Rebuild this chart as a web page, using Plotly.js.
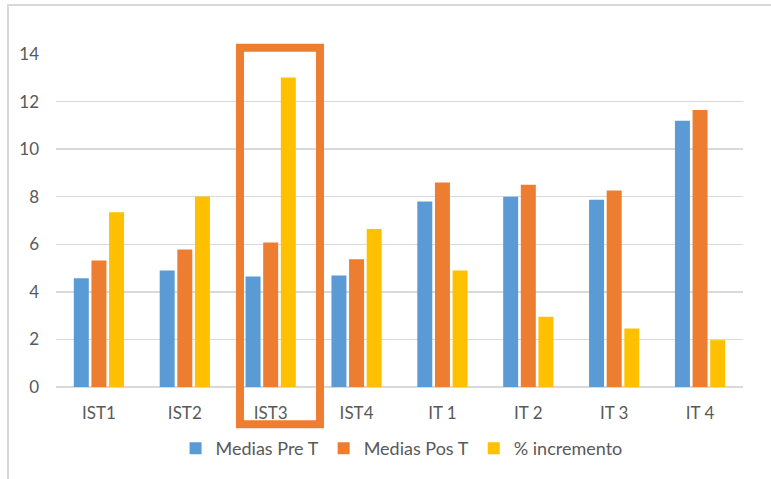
<!DOCTYPE html>
<html>
<head>
<meta charset="utf-8">
<script src="https://cdn.plot.ly/plotly-3.0.1.min.js"></script>
<style>
  html, body { margin: 0; padding: 0; background: #fff; }
  #wrap { position: relative; width: 771px; height: 479px; overflow: hidden; }
  #chart { position: absolute; left: 0; top: 0; width: 771px; height: 479px; }
  #frame {
    position: absolute; left: 7px; top: 4px; right: -4px; bottom: -4px;
    border-left: 2px solid #d9d9d9; border-top: 2px solid #d9d9d9;
    pointer-events: none;
  }
</style>
</head>
<body>
<div id="wrap">
  <div id="chart"></div>
  <div id="frame"></div>
</div>
<script>
// Categories (groups along the x axis)
const categories = ["IST1", "IST2", "IST3", "IST4", "IT 1", "IT 2", "IT 3", "IT 4"];

// Series values
const mediasPre  = [4.57, 4.90, 4.65, 4.69, 7.80, 8.00, 7.87, 11.19];
const mediasPos  = [5.32, 5.78, 6.07, 5.37, 8.60, 8.50, 8.26, 11.65];
const incremento = [7.35, 8.01, 13.01, 6.64, 4.90, 2.95, 2.46, 1.97];

// Series names
const seriesNames = ["Medias Pre T", "Medias Pos T", "% incremento"];

// Y axis ticks
const yTicks = [0, 2, 4, 6, 8, 10, 12, 14];

const colors = ["#5B9BD5", "#ED7D31", "#FFC000"];
const textFont = { family: "Lato, 'Open Sans', sans-serif", size: 17, color: "#595959" };
const legendFont = { family: "Lato, 'Open Sans', sans-serif", size: 18, color: "#595959" };

const traces = [mediasPre, mediasPos, incremento].map((vals, i) => ({
  type: "bar",
  name: seriesNames[i],
  x: categories,
  y: vals,
  marker: { color: colors[i], line: { width: 0 } },
  hoverinfo: "x+y+name"
}));

const layout = {
  width: 771,
  height: 479,
  margin: { l: 56, r: 28, t: 54, b: 89 },
  paper_bgcolor: "#ffffff",
  plot_bgcolor: "#ffffff",
  barmode: "group",
  bargap: 0.384,
  bargroupgap: 0.15,
  font: textFont,
  showlegend: true,
  legend: {
    orientation: "h",
    x: 0.503,
    xanchor: "center",
    y: -0.1845,
    yanchor: "middle",
    font: legendFont,
    itemclick: false,
    itemdoubleclick: false
  },
  xaxis: {
    type: "category",
    showgrid: false,
    showline: false,
    zeroline: false,
    ticks: "",
    ticklabelstandoff: 14,
    tickfont: textFont,
    fixedrange: true
  },
  yaxis: {
    range: [0, 14],
    tickvals: yTicks,
    ticktext: yTicks.map(String),
    showgrid: true,
    gridcolor: "#d9d9d9",
    gridwidth: 1.3,
    zeroline: true,
    zerolinecolor: "#d9d9d9",
    zerolinewidth: 1.3,
    showline: false,
    ticks: "",
    ticklabelstandoff: 16,
    tickfont: textFont,
    fixedrange: true
  },
  shapes: [
    {
      // highlight box around the IST3 group
      type: "rect",
      xref: "paper",
      yref: "paper",
      x0: 0.2678,
      x1: 0.3843,
      y0: -0.112,
      y1: 1.0188,
      line: { color: "#ED7D31", width: 8 },
      fillcolor: "rgba(0,0,0,0)",
      layer: "above"
    }
  ]
};

Plotly.newPlot("chart", traces, layout, { displayModeBar: false, staticPlot: true });
</script>
</body>
</html>
